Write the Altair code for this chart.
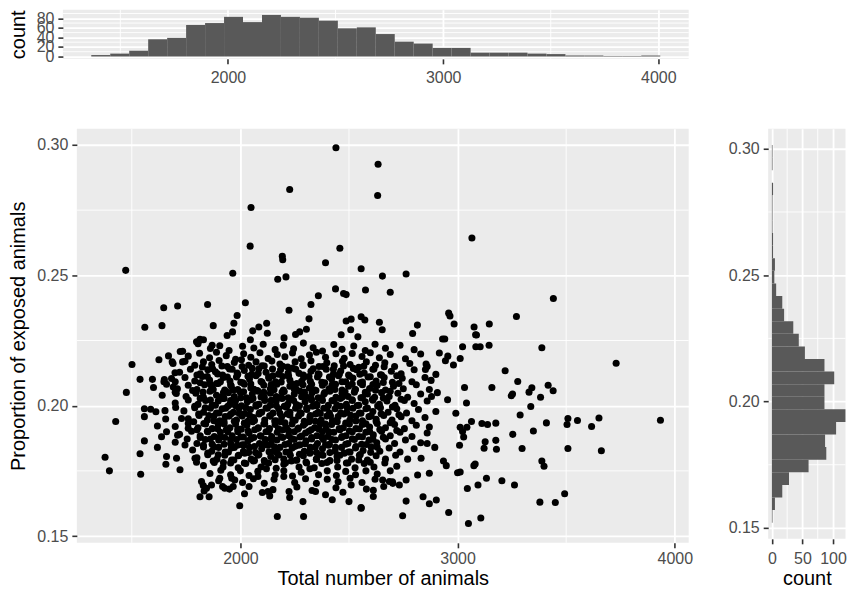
import altair as alt
import pandas as pd

FONT = "Liberation Sans"

# ---------------- data ----------------
# top marginal histogram (Total number of animals), 30 bins
top_counts = [3, 6, 12, 36, 39, 66, 70, 83, 72, 87, 83, 81, 75, 59, 61,
              47, 31, 27, 18, 18, 8, 8, 8, 6, 5, 2, 2, 1, 1, 2]
top_range = (1365, 4009)

# right marginal histogram (Proportion of exposed animals), 30 bins, bottom -> top
right_counts = [1, 5, 17, 28, 60, 89, 87, 105, 121, 86, 86, 102, 86, 54, 44,
                35, 20, 17, 7, 4, 5, 2, 2, 1, 1, 1, 2, 0, 1, 1]
right_range = (0.1521, 0.3015)

# scatter points (total animals, proportion exposed)
upper_pts = [(2440,.2989),(2634,.2926),(2227,.2829),(2632,.2806),(2049,.2760),(3066,.2643),
 (2045,.2612),(2458,.2604),(2193,.2573),(2195,.2560),(2392,.2548),(2556,.2525),(1472,.2519),
 (1965,.2508),(2763,.2505),(2654,.2497),(2210,.2494),(2172,.2485),(2438,.2448),(2576,.2444),
 (2690,.2435),(2475,.2430),(2487,.2426),(2359,.2422),(3441,.2411),(2023,.2395),(1849,.2388),
 (2325,.2388),(1711,.2382),(1647,.2376),(2224,.2366),(2959,.2355),(2965,.2344),(1985,.2346),
 (3271,.2342),(2556,.2341),(2316,.2333),(2510,.2332),(2573,.2329),(2487,.2325),(2640,.2320),
 (1970,.2316),(2121,.2316),(2984,.2313),(3146,.2313),(2815,.2309),(1639,.2307),(1875,.2307),
 (2085,.2302),(1560,.2301),(3076,.2302),(2508,.2291),(2653,.2291),(2304,.2293),(2057,.2287),
 (1964,.2283),(2273,.2283),(2124,.2278),(2793,.2277),(2254,.2273),(2464,.2272),(3083,.2272),
 (1939,.2269),(2541,.2264),(2201,.2260),(2931,.2256),(1814,.2255),(1830,.2253),(2046,.2253)]

right_pts = [(3388,.2222),(3730,.2163),(3219,.2134),(3277,.2093),(3158,.2070),(3253,.2045),
 (3247,.2038),(3329,.2052),(3342,.2069),(3417,.2078),(3440,.2057),(3382,.2032),(3337,.1997),
 (3288,.1964),(3409,.1934),(3349,.1903),(3254,.1890),(3508,.1951),(3504,.1928),(3552,.1943),
 (3617,.1920),(3651,.1953),(3934,.1944),(3508,.1836),(3662,.1827),(3297,.1836),(3176,.1867),
 (3179,.1833),(3127,.1862),(3122,.1837),(3388,.1788),(3398,.1768),(3262,.1696),(3204,.1712),
 (3133,.1722),(3094,.1696),(3045,.1682),(3493,.1662),(3450,.1629),(3379,.1630),(3107,.1569),
 (3050,.1548),(2959,.1590),(2747,.1578),(2902,.1638),(2870,.1624),(2841,.1651),(2763,.1634),
 (2612,.1676),(2612,.1652),(2556,.1607),(3000,.1743),(3012,.1746),(3075,.1770),(3081,.1776),
 (3009,.1848),(2992,.1971),(3012,.1917),(3023,.1901),(3028,.1880),(3043,.1917),(3064,.1939),
 (3112,.1932),(3138,.1928),(3176,.1933),(3032,.2070),(3041,.2010),(2954,.2023),(2907,.2050),
 (2878,.2097),(2981,.2156),(2944,.2172),(2955,.2190),(2916,.2202),(2941,.2256),(3012,.2181),
 (3023,.2226),(3084,.2226),(3104,.2226),(3145,.2232),(3087,.2271),(2855,.2160),(2852,.2139),
 (2935,.1788),(2948,.1770),(2860,.1855),(2895,.1840),(2832,.1798),(2870,.1741),(2816,.1734),
 (2763,.1715),(2702,.1702),(2732,.1696),(2686,.1709),(2655,.1715)]

left_pts = [(1377,.1802),(1397,.1750),(1426,.1939),(1475,.2051),(1501,.2158),(1538,.2101),
 (1538,.1816),(1541,.1737),(1558,.1958),(1558,.1865),(1558,.1988),(1587,.1986),(1611,.1977),
 (1595,.2101),(1625,.2176),(1618,.1922),(1618,.1840),(1637,.1881),(1648,.2092),(1653,.1981),
 (1656,.1949),(1660,.1900),(1660,.1805),(1657,.1775),(1669,.2191),(1683,.2104),(1691,.2072),
 (1686,.2168),(1699,.2126),(1702,.1993),(1705,.2047),(1706,.1798),(1711,.1887),(1722,.1754),
 (1723,.2208),(1734,.2209),(1734,.2168),(1729,.1951),(1745,.1849),(1760,.1913),(1791,.1798),
 (1798,.1783),(1798,.2245),(1814,.2251),(1814,.1651),(1856,.1651),(1821,.1709),(1829,.1694),
 (1844,.1683),(1867,.1696),(1833,.1673),(1870,.2232),(1905,.1722),(1918,.1690),(1928,.1683),
 (1967,.1690),(1974,.1715),(1997,.1616),(2019,.1662),(2081,.1728),(2101,.1667),(2135,.1654),
 (2127,.1671),(2170,.1575),(2224,.1671),(2227,.1648),(2288,.1632),(2291,.1575),(2346,.1671),
 (2392,.1658),(2423,.1639),(2472,.1668),(2500,.1632),(2510,.1696),(2556,.1609)]

core_pts = [
 (1805,.2238),(1862,.2219),(1905,.2230),(1948,.2212),(2010,.2228),(2062,.2221),(2105,.2236),
 (2160,.2215),(2198,.2232),(2245,.2218),(2290,.2240),(2335,.2222),(2378,.2210),(2430,.2235),
 (2468,.2216),(2522,.2229),(2575,.2212),(2620,.2236),(2668,.2220),(2735,.2232),(2800,.2215),
 (1760,.2190),(1812,.2201),(1858,.2184),(1890,.2205),(1935,.2192),(1978,.2178),(2015,.2199),
 (2048,.2186),(2090,.2203),(2128,.2181),(2170,.2196),(2205,.2188),(2240,.2202),(2280,.2180),
 (2318,.2194),(2350,.2205),(2392,.2186),(2440,.2199),(2478,.2182),(2515,.2200),(2560,.2189),
 (2598,.2203),(2640,.2184),(2690,.2196),(2760,.2180),(2830,.2198),
 (1690,.2162),(1745,.2170),(1790,.2155),(1830,.2168),(1868,.2158),(1902,.2173),(1940,.2150),
 (1972,.2166),(2005,.2176),(2038,.2155),(2072,.2168),(2110,.2152),(2145,.2171),(2182,.2160),
 (2218,.2148),(2252,.2168),(2288,.2157),(2325,.2172),(2362,.2150),(2398,.2165),(2432,.2153),
 (2470,.2170),(2505,.2158),(2545,.2147),(2580,.2168),(2622,.2155),(2665,.2165),(2710,.2150),
 (2780,.2162),(2860,.2150),
 (1720,.2128),(1770,.2140),(1815,.2122),(1850,.2138),(1885,.2130),(1918,.2118),(1950,.2141),
 (1985,.2125),(2018,.2135),(2052,.2120),(2085,.2142),(2118,.2128),(2150,.2115),(2185,.2138),
 (2220,.2125),(2255,.2140),(2290,.2118),(2325,.2132),(2358,.2122),(2395,.2140),(2428,.2120),
 (2462,.2133),(2498,.2118),(2535,.2138),(2570,.2125),(2610,.2140),(2650,.2118),(2695,.2132),
 (2740,.2122),(2800,.2138),(2900,.2120),
 (1650,.2100),(1700,.2092),(1745,.2108),(1790,.2095),(1825,.2112),(1858,.2098),(1890,.2085),
 (1922,.2108),(1952,.2095),(1982,.2110),(2012,.2088),(2042,.2102),(2072,.2115),(2100,.2090),
 (2132,.2105),(2162,.2092),(2195,.2112),(2228,.2098),(2260,.2085),(2292,.2108),(2322,.2094),
 (2355,.2110),(2388,.2088),(2420,.2102),(2452,.2115),(2485,.2092),(2518,.2106),(2552,.2088),
 (2588,.2110),(2625,.2095),(2662,.2108),(2700,.2090),(2745,.2105),(2790,.2092),(2850,.2108),
 (1600,.2070),(1660,.2082),(1710,.2065),(1760,.2078),(1800,.2062),(1835,.2080),(1868,.2068),
 (1898,.2085),(1928,.2060),(1958,.2075),(1988,.2062),(2018,.2082),(2048,.2068),(2078,.2058),
 (2108,.2078),(2138,.2065),(2168,.2082),(2198,.2060),(2228,.2075),(2258,.2062),(2288,.2080),
 (2318,.2068),(2348,.2058),(2378,.2078),(2408,.2065),(2438,.2082),(2468,.2060),(2498,.2075),
 (2530,.2062),(2562,.2080),(2595,.2066),(2630,.2078),(2668,.2060),(2705,.2075),(2750,.2065),
 (2810,.2080),(2870,.2062),
 (1640,.2040),(1700,.2052),(1750,.2035),(1795,.2048),(1830,.2032),(1860,.2055),(1890,.2040),
 (1918,.2028),(1945,.2050),(1972,.2035),(2000,.2052),(2028,.2030),(2055,.2045),(2082,.2055),
 (2110,.2032),(2138,.2048),(2165,.2035),(2192,.2052),(2220,.2030),(2248,.2045),(2275,.2055),
 (2302,.2035),(2330,.2050),(2358,.2030),(2385,.2045),(2412,.2055),(2440,.2032),(2468,.2048),
 (2496,.2035),(2525,.2052),(2555,.2030),(2585,.2045),(2618,.2032),(2650,.2050),(2685,.2035),
 (2725,.2048),(2770,.2032),(2830,.2045),(2880,.2035),
 (1700,.2010),(1760,.2022),(1805,.2005),(1840,.2020),(1870,.2002),(1898,.2018),(1925,.2028),
 (1952,.2005),(1978,.2020),(2005,.2000),(2032,.2015),(2058,.2028),(2085,.2005),(2112,.2020),
 (2138,.2002),(2165,.2018),(2192,.2028),(2218,.2005),(2245,.2020),(2272,.2000),(2298,.2015),
 (2325,.2028),(2352,.2005),(2378,.2020),(2405,.2002),(2432,.2018),(2460,.2028),(2488,.2005),
 (2515,.2020),(2545,.2002),(2575,.2015),(2608,.2025),(2640,.2005),(2675,.2018),(2712,.2002),
 (2755,.2020),(2800,.2008),(2860,.2018),
 (1740,.1980),(1790,.1992),(1830,.1975),(1862,.1990),(1890,.1972),(1916,.1988),(1942,.1998),
 (1968,.1975),(1994,.1990),(2020,.1970),(2046,.1985),(2072,.1998),(2098,.1975),(2124,.1990),
 (2150,.1972),(2176,.1988),(2202,.1998),(2228,.1975),(2254,.1990),(2280,.1970),(2306,.1985),
 (2332,.1998),(2358,.1975),(2384,.1990),(2410,.1972),(2436,.1988),(2462,.1998),(2490,.1975),
 (2518,.1990),(2548,.1972),(2578,.1988),(2610,.1978),(2645,.1992),(2680,.1975),(2720,.1988),
 (2765,.1972),(2820,.1985),(2900,.1978),
 (1760,.1950),(1810,.1962),(1848,.1945),(1878,.1960),(1905,.1942),(1930,.1958),(1956,.1968),
 (1982,.1945),(2008,.1960),(2034,.1940),(2060,.1955),(2086,.1968),(2112,.1945),(2138,.1960),
 (2164,.1942),(2190,.1958),(2216,.1968),(2242,.1945),(2268,.1960),(2294,.1940),(2320,.1955),
 (2346,.1968),(2372,.1945),(2398,.1960),(2424,.1942),(2450,.1958),(2476,.1968),(2504,.1945),
 (2532,.1960),(2562,.1942),(2592,.1958),(2625,.1948),(2660,.1962),(2698,.1945),(2740,.1958),
 (2790,.1942),(2850,.1955),
 (1700,.1920),(1760,.1932),(1805,.1915),(1840,.1930),(1870,.1912),(1898,.1928),(1925,.1938),
 (1952,.1915),(1978,.1930),(2004,.1910),(2030,.1925),(2056,.1938),(2082,.1915),(2108,.1930),
 (2134,.1912),(2160,.1928),(2186,.1938),(2212,.1915),(2238,.1930),(2264,.1910),(2290,.1925),
 (2316,.1938),(2342,.1915),(2368,.1930),(2394,.1912),(2420,.1928),(2446,.1938),(2474,.1915),
 (2502,.1930),(2532,.1912),(2562,.1928),(2595,.1918),(2630,.1932),(2668,.1915),(2710,.1928),
 (2755,.1912),(2810,.1925),(2870,.1918),
 (1720,.1890),(1775,.1902),(1815,.1885),(1850,.1900),(1880,.1882),(1908,.1898),(1935,.1908),
 (1962,.1885),(1988,.1900),(2014,.1880),(2040,.1895),(2066,.1908),(2092,.1885),(2118,.1900),
 (2144,.1882),(2170,.1898),(2196,.1908),(2222,.1885),(2248,.1900),(2274,.1880),(2300,.1895),
 (2326,.1908),(2352,.1885),(2378,.1900),(2404,.1882),(2430,.1898),(2458,.1908),(2486,.1885),
 (2515,.1900),(2545,.1882),(2578,.1898),(2612,.1888),(2650,.1902),(2690,.1885),(2735,.1898),
 (2790,.1882),(2860,.1895),
 (1700,.1860),(1755,.1872),(1800,.1855),(1838,.1870),(1870,.1852),(1900,.1868),(1928,.1878),
 (1955,.1855),(1982,.1870),(2008,.1850),(2035,.1865),(2062,.1878),(2088,.1855),(2115,.1870),
 (2142,.1852),(2168,.1868),(2195,.1878),(2222,.1855),(2248,.1870),(2275,.1850),(2302,.1865),
 (2328,.1878),(2355,.1855),(2382,.1870),(2410,.1852),(2438,.1868),(2466,.1878),(2495,.1855),
 (2525,.1870),(2558,.1852),(2592,.1868),(2628,.1858),(2668,.1872),(2710,.1855),(2760,.1868),
 (2830,.1858),
 (1780,.1830),(1830,.1842),(1868,.1825),(1900,.1840),(1930,.1822),(1958,.1838),(1986,.1848),
 (2014,.1825),(2042,.1840),(2070,.1820),(2098,.1835),(2126,.1848),(2154,.1825),(2182,.1840),
 (2210,.1822),(2238,.1838),(2266,.1848),(2294,.1825),(2322,.1840),(2350,.1820),(2378,.1835),
 (2406,.1848),(2436,.1825),(2466,.1840),(2498,.1822),(2530,.1838),(2565,.1828),(2602,.1842),
 (2642,.1825),(2685,.1838),(2735,.1822),(2800,.1835),
 (1800,.1800),(1850,.1812),(1892,.1795),(1928,.1810),(1960,.1792),(1990,.1808),(2020,.1818),
 (2050,.1795),(2080,.1810),(2110,.1790),(2140,.1805),(2170,.1818),(2200,.1795),(2230,.1810),
 (2260,.1792),(2290,.1808),(2320,.1818),(2350,.1795),(2380,.1810),(2412,.1790),(2445,.1805),
 (2478,.1818),(2512,.1795),(2548,.1810),(2585,.1792),(2625,.1808),(2668,.1795),(2715,.1810),
 (2770,.1795),
 (1830,.1770),(1880,.1782),(1920,.1765),(1955,.1780),(1990,.1762),(2025,.1778),(2060,.1788),
 (2095,.1765),(2130,.1780),(2165,.1760),(2200,.1775),(2235,.1788),(2270,.1765),(2305,.1780),
 (2340,.1762),(2375,.1778),(2410,.1788),(2448,.1765),(2488,.1780),(2528,.1762),(2570,.1778),
 (2615,.1765),(2665,.1780),(2720,.1768),
 (1860,.1740),(1910,.1752),(1955,.1735),(2000,.1750),(2040,.1732),(2080,.1748),(2120,.1758),
 (2160,.1735),(2200,.1750),(2240,.1730),(2280,.1745),(2320,.1758),(2360,.1735),(2400,.1750),
 (2442,.1732),(2485,.1748),(2530,.1735),(2578,.1750),(2630,.1738),(2690,.1750),
 (1900,.1712),(1960,.1722),(2010,.1705),(2060,.1720),(2110,.1702),(2155,.1718),(2200,.1728),
 (2250,.1705),(2300,.1720),(2350,.1702),(2400,.1718),(2450,.1708),(2505,.1722),(2560,.1705),
 (2620,.1718),(2700,.1708),
 (1950,.1680),(2040,.1690),(2150,.1678),(2260,.1688),(2330,.1675),(2440,.1685),(2580,.1680),
 (2660,.1690)]

dense_pts = [
 (1825,.2148),(1872,.2142),(1915,.2152),(1962,.2140),(2008,.2150),(2055,.2143),(2100,.2153),
 (2148,.2141),(2195,.2151),(2240,.2144),(2288,.2154),(2335,.2142),(2380,.2150),(2428,.2140),
 (2475,.2152),(2520,.2143),(2568,.2151),(2615,.2141),(2662,.2149),
 (1800,.2118),(1848,.2112),(1895,.2122),(1940,.2110),(1988,.2120),(2035,.2113),(2082,.2123),
 (2130,.2111),(2176,.2121),(2222,.2114),(2270,.2124),(2316,.2112),(2362,.2120),(2410,.2110),
 (2456,.2122),(2503,.2113),(2550,.2121),(2598,.2111),(2645,.2119),(2720,.2115),
 (1815,.2088),(1862,.2082),(1908,.2092),(1955,.2080),(2002,.2090),(2048,.2083),(2095,.2093),
 (2142,.2081),(2188,.2091),(2235,.2084),(2282,.2094),(2328,.2082),(2375,.2090),(2422,.2080),
 (2468,.2092),(2515,.2083),(2562,.2091),(2610,.2081),(2658,.2089),(2730,.2085),
 (1780,.2058),(1828,.2052),(1875,.2062),(1922,.2050),(1968,.2060),(2015,.2053),(2062,.2063),
 (2108,.2051),(2155,.2061),(2202,.2054),(2248,.2064),(2295,.2052),(2342,.2060),(2388,.2050),
 (2435,.2062),(2482,.2053),(2528,.2061),(2575,.2051),(2622,.2059),(2690,.2055),
 (1815,.2028),(1862,.2022),(1908,.2032),(1955,.2020),(2002,.2030),(2048,.2023),(2095,.2033),
 (2142,.2021),(2188,.2031),(2235,.2024),(2282,.2034),(2328,.2022),(2375,.2030),(2422,.2020),
 (2468,.2032),(2515,.2023),(2562,.2031),(2610,.2021),(2658,.2029),(2740,.2025),
 (1790,.1998),(1838,.1992),(1885,.2002),(1932,.1990),(1978,.2000),(2025,.1993),(2072,.2003),
 (2118,.1991),(2165,.2001),(2212,.1994),(2258,.2004),(2305,.1992),(2352,.2000),(2398,.1990),
 (2445,.2002),(2492,.1993),(2538,.2001),(2585,.1991),(2632,.1999),(2700,.1995),
 (1808,.1968),(1855,.1962),(1902,.1972),(1948,.1960),(1995,.1970),(2042,.1963),(2088,.1973),
 (2135,.1961),(2182,.1971),(2228,.1964),(2275,.1974),(2322,.1962),(2368,.1970),(2415,.1960),
 (2462,.1972),(2508,.1963),(2555,.1971),(2602,.1961),(2648,.1969),(2730,.1965),
 (1785,.1938),(1832,.1932),(1878,.1942),(1925,.1930),(1972,.1940),(2018,.1933),(2065,.1943),
 (2112,.1931),(2158,.1941),(2205,.1934),(2252,.1944),(2298,.1932),(2345,.1940),(2392,.1930),
 (2438,.1942),(2485,.1933),(2532,.1941),(2578,.1931),(2625,.1939),(2690,.1935),
 (1800,.1908),(1848,.1902),(1895,.1912),(1942,.1900),(1988,.1910),(2035,.1903),(2082,.1913),
 (2128,.1901),(2175,.1911),(2222,.1904),(2268,.1914),(2315,.1902),(2362,.1910),(2408,.1900),
 (2455,.1912),(2502,.1903),(2548,.1911),(2595,.1901),(2642,.1909),(2720,.1905),
 (1815,.1878),(1862,.1872),(1908,.1882),(1955,.1870),(2002,.1880),(2048,.1873),(2095,.1883),
 (2142,.1871),(2188,.1881),(2235,.1874),(2282,.1884),(2328,.1872),(2375,.1880),(2422,.1870),
 (2468,.1882),(2515,.1873),(2562,.1881),(2610,.1871),(2658,.1879),
 (1830,.1848),(1878,.1842),(1925,.1852),(1972,.1840),(2018,.1850),(2065,.1843),(2112,.1853),
 (2158,.1841),(2205,.1851),(2252,.1844),(2298,.1854),(2345,.1842),(2392,.1850),(2438,.1840),
 (2485,.1852),(2532,.1843),(2580,.1851),(2630,.1841),
 (1850,.1818),(1898,.1812),(1945,.1822),(1992,.1810),(2038,.1820),(2085,.1813),(2132,.1823),
 (2178,.1811),(2225,.1821),(2272,.1814),(2318,.1824),(2365,.1812),(2412,.1820),(2458,.1810),
 (2505,.1822),(2552,.1813),(2600,.1821),
 (1875,.1788),(1922,.1782),(1970,.1792),(2018,.1780),(2065,.1790),(2112,.1783),(2160,.1793),
 (2208,.1781),(2255,.1791),(2302,.1784),(2350,.1794),(2398,.1782),(2445,.1790),(2495,.1780),
 (2545,.1792),(2598,.1783)]

# ---------------- tables ----------------
pts = pd.DataFrame(upper_pts + right_pts + left_pts + core_pts + dense_pts, columns=["n", "p"])

nb = len(top_counts)
tw = (top_range[1] - top_range[0]) / nb
top_df = pd.DataFrame({"lo": [top_range[0] + i * tw for i in range(nb)],
                       "hi": [top_range[0] + (i + 1) * tw for i in range(nb)],
                       "count": top_counts, "zero": 0})
nr = len(right_counts)
rw = (right_range[1] - right_range[0]) / nr
right_df = pd.DataFrame({"lo": [right_range[0] + i * rw for i in range(nr)],
                         "hi": [right_range[0] + (i + 1) * rw for i in range(nr)],
                         "count": right_counts, "zero": 0})

# ---------------- styling helpers ----------------
BAR = "#595959"
PANEL = "#EBEBEB"
GRID_MAJ = 1.8
GRID_MIN = 0.9


def axis(values, title=None, fmt="d", title_pad=6, label_pad=4):
    return alt.Axis(values=values, format=fmt, grid=True, gridColor="white", gridWidth=GRID_MAJ,
                    domain=False, tickColor="#333333", tickSize=5, tickWidth=1.6,
                    labelColor="#4D4D4D", labelFont=FONT, labelFontSize=16, labelPadding=label_pad,
                    labelFlush=False, labelOverlap=False,
                    titleFont=FONT, titleFontSize=20, titleFontWeight="normal", titleColor="black",
                    titlePadding=title_pad, title=title if title is not None else "")


def minor_rules(vals, channel, field_scale, ax):
    df = pd.DataFrame({"v": vals})
    base = alt.Chart(df).mark_rule(color="white", strokeWidth=GRID_MIN)
    if channel == "x":
        return base.encode(x=alt.X("v:Q", scale=field_scale, axis=ax))
    return base.encode(y=alt.Y("v:Q", scale=field_scale, axis=ax))


def spacer(w):
    return alt.Chart(pd.DataFrame({"s": [0]})).mark_point(opacity=0).encode(
        x=alt.X("s:Q", axis=None), y=alt.Y("s:Q", axis=None)
    ).properties(width=w, height=1, view=alt.ViewBackground(fill="white", stroke="white"))


panel_view = alt.ViewBackground(fill=PANEL, stroke=PANEL, strokeWidth=0)

# ---------------- top histogram ----------------
tx = alt.Scale(domain=[1233, 4141], nice=False, zero=False)
ty = alt.Scale(domain=[-5, 98], nice=False, zero=False)
tax_x = axis([2000, 3000, 4000], None, "d", label_pad=5.5)
tax_y = axis([0, 20, 40, 60, 80], "count", "d", title_pad=7.5)
top = alt.layer(
    minor_rules([1500, 2500, 3500], "x", tx, tax_x),
    minor_rules([10, 30, 50, 70, 90], "y", ty, tax_y),
    alt.Chart(top_df).mark_rect(color=BAR).encode(
        x=alt.X("lo:Q", scale=tx, axis=tax_x), x2="hi:Q",
        y=alt.Y("count:Q", scale=ty, axis=tax_y), y2="zero:Q"),
).properties(width=627.3, height=49.3, view=panel_view)

# ---------------- main scatter ----------------
mx = alt.Scale(domain=[1247, 4064], nice=False, zero=False)
my = alt.Scale(domain=[0.1474, 0.3062], nice=False, zero=False)
max_x = axis([2000, 3000, 4000], "Total number of animals", "d", title_pad=1.5, label_pad=3)
max_y = axis([0.15, 0.20, 0.25, 0.30], "Proportion of exposed animals", ".2f", title_pad=8.6)
main = alt.layer(
    minor_rules([1500, 2500, 3500], "x", mx, max_x),
    minor_rules([0.175, 0.225, 0.275], "y", my, max_y),
    alt.Chart(pts).mark_circle(color="black", opacity=1, size=50).encode(
        x=alt.X("n:Q", scale=mx, axis=max_x),
        y=alt.Y("p:Q", scale=my, axis=max_y)),
).properties(width=613.3, height=415, view=panel_view)

# ---------------- right histogram ----------------
rx = alt.Scale(domain=[-6.04, 120.4], nice=False, zero=False)
ry = alt.Scale(domain=[0.1457, 0.3079], nice=False, zero=False)
rax_x = axis([0, 50, 100], "count", "d", title_pad=1.5, label_pad=7)
rax_y = axis([0.15, 0.20, 0.25, 0.30], None, ".2f")
right = alt.layer(
    minor_rules([25, 75], "x", rx, rax_x),
    minor_rules([0.175, 0.225, 0.275], "y", ry, rax_y),
    alt.Chart(right_df).mark_rect(color=BAR, clip=True).encode(
        y=alt.Y("lo:Q", scale=ry, axis=rax_y), y2="hi:Q",
        x=alt.X("count:Q", scale=rx, axis=rax_x), x2="zero:Q"),
).properties(width=77.5, height=411, view=panel_view)

row2 = alt.hconcat(spacer(14), main, spacer(78.5), right, spacing=0, bounds="flush")
chart = alt.vconcat(top, row2, spacing=69.4, bounds="flush").properties(
    padding={"left": 0, "top": 0, "right": 0, "bottom": 0},
    background="white",
).configure_view(stroke=None)

chart.save("out.html", embed_options={"renderer": "svg", "actions": False})
